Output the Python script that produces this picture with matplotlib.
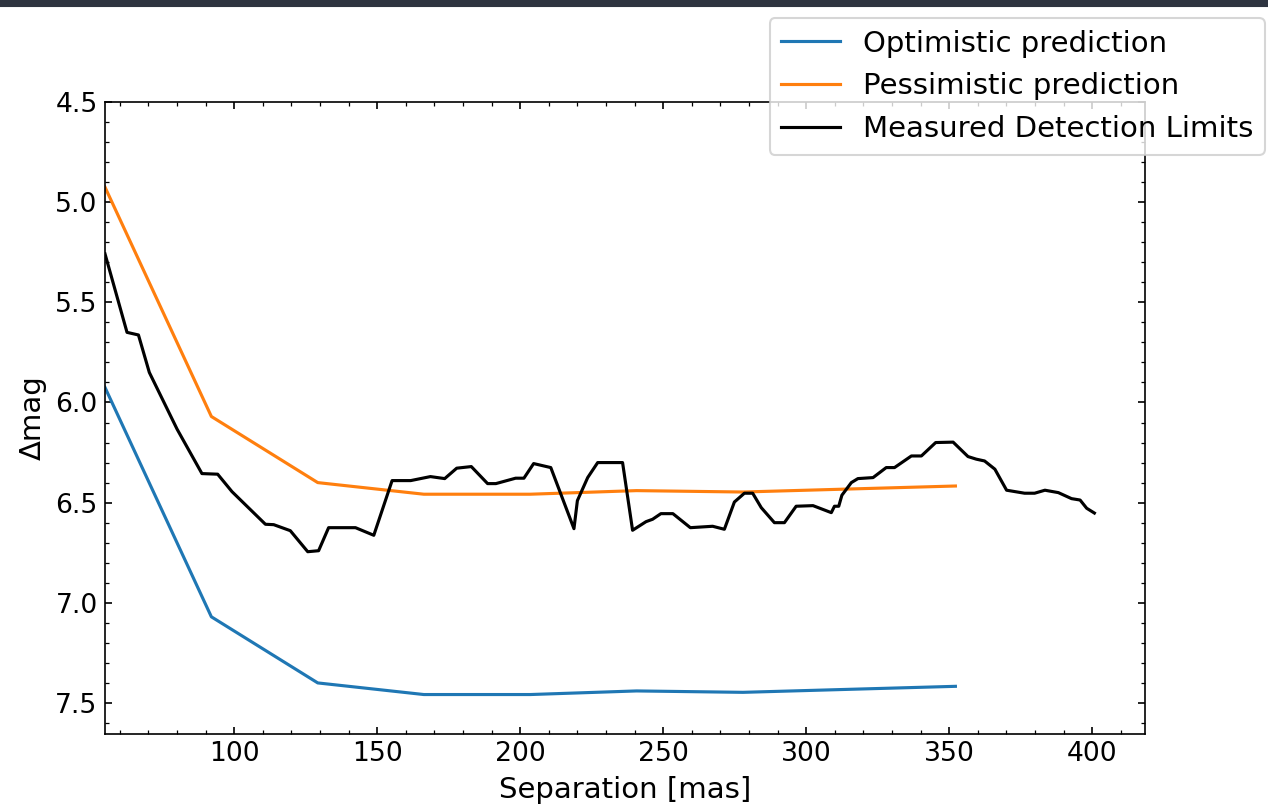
import numpy as np
import matplotlib
matplotlib.use("Agg")
import matplotlib.pyplot as plt
from matplotlib.patches import Rectangle

# prediction grid (mas) and predicted contrast curves
pred_sep = [54.8, 92.0, 129.2, 166.3, 203.5, 240.7, 277.9, 315.0, 352.2]
optimistic = [5.925, 7.07, 7.40, 7.458, 7.458, 7.44, 7.447, 7.432, 7.417]
pessimistic = [4.925, 6.07, 6.40, 6.458, 6.458, 6.44, 6.447, 6.432, 6.417]

# measured detection limits
meas_sep = [54.8, 62.5, 66.5, 70.3, 80.0, 88.7, 94.2, 99.2, 110.9, 113.8,
            119.6, 125.7, 129.5, 133.0, 142.4, 148.8, 155.2, 161.7, 168.6, 173.6,
            177.8, 182.9, 188.6, 191.5, 198.4, 201.3, 204.7, 210.7, 218.8, 220.0,
            223.6, 227.1, 235.8, 239.3, 244.0, 246.3, 249.2, 253.4, 259.5, 267.3,
            271.4, 274.9, 278.4, 281.3, 284.3, 288.9, 292.4, 296.5, 302.4, 308.8,
            309.9, 311.4, 312.5, 315.8, 318.1, 323.4, 328.0, 330.9, 336.8, 340.3,
            345.3, 351.4, 356.6, 359.5, 362.4, 366.0, 370.1, 376.4, 379.9, 383.5,
            388.2, 392.8, 395.8, 398.1, 400.8]
meas_dmag = [5.258, 5.65, 5.663, 5.85, 6.133, 6.355, 6.358, 6.445, 6.608, 6.61,
             6.64, 6.745, 6.74, 6.625, 6.625, 6.663, 6.39, 6.39, 6.37, 6.38,
             6.328, 6.32, 6.405, 6.405, 6.378, 6.378, 6.305, 6.325, 6.63, 6.49,
             6.375, 6.3, 6.3, 6.638, 6.595, 6.583, 6.555, 6.555, 6.625, 6.618,
             6.633, 6.497, 6.453, 6.453, 6.525, 6.6, 6.6, 6.518, 6.515, 6.55,
             6.518, 6.518, 6.463, 6.4, 6.38, 6.375, 6.325, 6.325, 6.267, 6.267,
             6.2, 6.198, 6.27, 6.283, 6.292, 6.333, 6.438, 6.453, 6.453, 6.438,
             6.45, 6.48, 6.487, 6.528, 6.552]

plt.rcParams["font.size"] = 14
plt.rcParams["xtick.labelsize"] = 12.8
plt.rcParams["ytick.labelsize"] = 12.8
plt.rcParams["xtick.direction"] = "in"
plt.rcParams["ytick.direction"] = "in"
plt.rcParams["xtick.top"] = True
plt.rcParams["ytick.right"] = True
plt.rcParams["xtick.minor.visible"] = True
plt.rcParams["ytick.minor.visible"] = True

fig = plt.figure(figsize=(1268 / 150, 808 / 150), dpi=150)
ax = fig.add_axes([105 / 1268, 1 - 734 / 808, 1040 / 1268, 632 / 808])

# dark strip along the top edge of the screenshot
fig.patches.append(Rectangle((0, 1 - 6 / 808), 1, 6 / 808, transform=fig.transFigure,
                             color="#2e3440", zorder=-1))

ax.plot(pred_sep, optimistic, color="tab:blue", label="Optimistic prediction")
ax.plot(pred_sep, pessimistic, color="tab:orange", label="Pessimistic prediction")
ax.plot(meas_sep, meas_dmag, color="k", label="Measured Detection Limits")

ax.set_xlim(54.8, 418.5)
ax.set_ylim(7.655, 4.5)
ax.set_xlabel("Separation [mas]")
ax.set_ylabel("Δmag")

ax.legend(loc="upper right", bbox_to_anchor=(1265 / 1268, 1 - 18 / 808),
          bbox_transform=fig.transFigure, borderaxespad=0)

fig.savefig("out.png", dpi=150)
